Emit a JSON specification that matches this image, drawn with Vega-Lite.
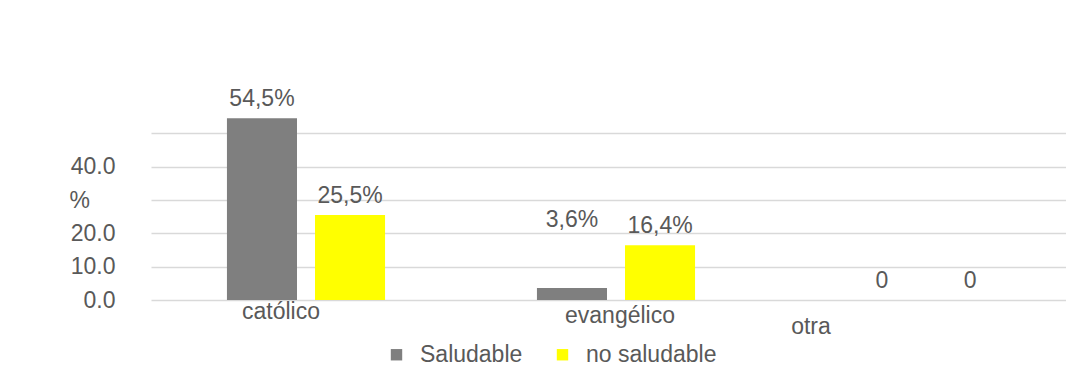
{
  "$schema": "https://vega.github.io/schema/vega-lite/v6.json",
  "width": 911,
  "height": 200,
  "autosize": {"type": "none"},
  "padding": {"left": 151, "top": 100, "right": 4, "bottom": 81},
  "background": "white",
  "config": {
    "view": {"stroke": null},
    "font": "Liberation Sans",
    "text": {"font": "Liberation Sans"}
  },
  "data": {
    "values": [
      {"religion": "católico", "grupo": "Saludable", "valor": 54.5, "etiqueta": "54,5%"},
      {"religion": "católico", "grupo": "no saludable", "valor": 25.5, "etiqueta": "25,5%"},
      {"religion": "evangélico", "grupo": "Saludable", "valor": 3.6, "etiqueta": "3,6%"},
      {"religion": "evangélico", "grupo": "no saludable", "valor": 16.4, "etiqueta": "16,4%"},
      {"religion": "otra", "grupo": "Saludable", "valor": 0, "etiqueta": "0"},
      {"religion": "otra", "grupo": "no saludable", "valor": 0, "etiqueta": "0"}
    ]
  },
  "encoding": {
    "x": {
      "field": "religion",
      "type": "nominal",
      "sort": ["católico", "evangélico", "otra"],
      "scale": {"range": [0, 930], "paddingInner": 0.49, "paddingOuter": 0.245},
      "axis": {
        "title": null,
        "labelAngle": 0,
        "ticks": false,
        "domain": false,
        "labelFont": "Liberation Sans",
        "labelFontSize": 23,
        "labelColor": "#595959",
        "labelPadding": {"condition": [{"test": "datum.value == 'otra'", "value": 15}, {"test": "datum.value == 'evangélico'", "value": 4}], "value": 0},
        "labelOffset": {"condition": [{"test": "datum.value == 'otra'", "value": -115}, {"test": "datum.value == 'evangélico'", "value": 4}], "value": -25}
      }
    },
    "xOffset": {
      "field": "grupo",
      "type": "nominal",
      "sort": ["Saludable", "no saludable"],
      "scale": {"paddingInner": 0.2045, "paddingOuter": 0}
    },
    "y": {
      "field": "valor",
      "type": "quantitative",
      "scale": {"domain": [0, 60], "nice": false},
      "axis": {
        "title": null,
        "values": [0, 10, 20, 30, 40, 50],
        "ticks": false,
        "domain": false,
        "gridColor": "#d9d9d9",
        "gridWidth": 1.3,
        "labelFont": "Liberation Sans",
        "labelFontSize": 23,
        "labelColor": "#595959",
        "labelAlign": {"condition": {"test": "datum.value == 30", "value": "left"}, "value": "right"},
        "labelPadding": {"condition": {"test": "datum.value == 30", "value": 82}, "value": 36},
        "labelExpr": "datum.value == 30 ? '%' : datum.value == 50 ? '' : format(datum.value, '.1f')"
      }
    }
  },
  "layer": [
    {
      "mark": {"type": "bar"},
      "encoding": {
        "color": {
          "field": "grupo",
          "type": "nominal",
          "sort": ["Saludable", "no saludable"],
          "scale": {"domain": ["Saludable", "no saludable"], "range": ["#7f7f7f", "#ffff00"]},
          "legend": {
            "title": null,
            "orient": "none",
            "direction": "horizontal",
            "legendX": 234,
            "legendY": 243,
            "padding": 0,
            "symbolType": "square",
            "symbolSize": 130,
            "symbolStrokeWidth": 0,
            "labelOffset": 12,
            "columnPadding": 28,
            "labelFont": "Liberation Sans",
            "labelFontSize": 23,
            "labelColor": "#595959"
          }
        }
      }
    },
    {
      "mark": {
        "type": "text",
        "baseline": "middle",
        "fontSize": 23,
        "font": "Liberation Sans",
        "color": "#595959",
        "dy": {"expr": "datum.valor > 0 && datum.valor < 5 ? -68 : -19"}
      },
      "encoding": {
        "text": {"field": "etiqueta"}
      }
    }
  ]
}
